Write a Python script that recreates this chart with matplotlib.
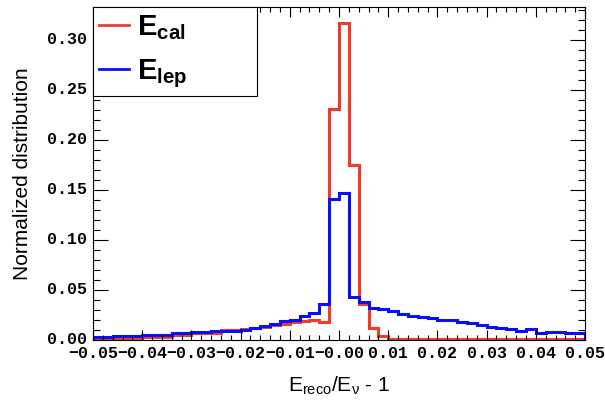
import numpy as np
import matplotlib
matplotlib.use('Agg')
import matplotlib.pyplot as plt
import matplotlib.transforms as mtransforms
from matplotlib.ticker import MultipleLocator, FuncFormatter

plt.rcParams['mathtext.fontset'] = 'custom'
plt.rcParams['mathtext.rm'] = 'Liberation Sans'
plt.rcParams['mathtext.it'] = 'Liberation Sans:italic'
plt.rcParams['mathtext.bf'] = 'Liberation Sans:bold'

# 50 bins over [-0.05, 0.05]
bin_lo = -0.05
bin_hi = 0.05
n_bins = 50

e_cal = [0.002, 0.002, 0.002, 0.002, 0.002, 0.003, 0.003, 0.003, 0.005, 0.005,
         0.0075, 0.0075, 0.0075, 0.0105, 0.0105, 0.0115, 0.012, 0.013, 0.015, 0.0165,
         0.018, 0.0195, 0.0205, 0.0185, 0.231, 0.317, 0.175, 0.036, 0.0125, 0.0045,
         0.0015, 0.0015, 0.0015, 0.0015, 0.0015, 0.0015, 0.0015, 0.0015, 0.0015, 0.0015,
         0.0015, 0.0015, 0.0015, 0.0015, 0.0015, 0.0015, 0.0015, 0.0015, 0.0015, 0.0015]

e_lep = [0.003, 0.003, 0.0045, 0.0045, 0.0045, 0.0055, 0.0055, 0.0055, 0.0068, 0.0068,
         0.0078, 0.0078, 0.0088, 0.0088, 0.0088, 0.0105, 0.012, 0.014, 0.0165, 0.0188,
         0.0205, 0.024, 0.027, 0.036, 0.1407, 0.1473, 0.0435, 0.038, 0.0317, 0.0307,
         0.029, 0.0257, 0.0243, 0.023, 0.0217, 0.02, 0.02, 0.0177, 0.0167, 0.015,
         0.0133, 0.0123, 0.0107, 0.0093, 0.011, 0.0073, 0.0077, 0.0077, 0.0067, 0.0067]

edges = np.linspace(bin_lo, bin_hi, n_bins + 1)


def fmt(v, pos):
    return ('%.2f' % v).replace('-', '\u2212')


fig = plt.figure(figsize=(6.05, 4.0), dpi=100)
ax = fig.add_axes([0.1537, 0.15, 0.8133, 0.8325])

red = '#f03a2a'
blue = '#0a10f5'
ax.stairs(e_cal, edges, color=red, linewidth=2.2, label=r'$\mathbf{E_{cal}}$')
ax.stairs(e_lep, edges, color=blue, linewidth=2.2, label=r'$\mathbf{E_{lep}}$')

ax.set_xlim(bin_lo, bin_hi)
ax.set_ylim(0, 0.333)

ax.xaxis.set_major_locator(MultipleLocator(0.01))
ax.xaxis.set_minor_locator(MultipleLocator(0.002))
ax.yaxis.set_major_locator(MultipleLocator(0.05))
ax.yaxis.set_minor_locator(MultipleLocator(0.01))
ax.xaxis.set_major_formatter(FuncFormatter(fmt))
ax.yaxis.set_major_formatter(FuncFormatter(fmt))

ax.tick_params(axis='both', which='both', direction='in', top=True, right=True, width=0.8)
ax.tick_params(axis='x', which='major', length=7.2, pad=4)
ax.tick_params(axis='x', which='minor', length=3.6)
ax.tick_params(axis='y', which='major', length=10.8, pad=4)
ax.tick_params(axis='y', which='minor', length=5)
for lab in ax.get_xticklabels() + ax.get_yticklabels():
    lab.set_fontfamily('Liberation Mono')
    lab.set_fontweight('bold')
    lab.set_fontsize(12)
# y labels sit a little above their ticks, as in the original
shift = mtransforms.ScaledTranslation(0, 2.5 / 100, fig.dpi_scale_trans)
for lab in ax.get_yticklabels():
    lab.set_transform(lab.get_transform() + shift)
for sp in ax.spines.values():
    sp.set_linewidth(0.8)

ax.set_xlabel('E$_{\\mathrm{reco}}$/E$_{\\mathrm{ν}}$ - 1', fontfamily='Liberation Sans',
              fontsize=15, labelpad=10)
ax.set_ylabel('Normalized distribution', fontfamily='Liberation Sans', fontsize=15, labelpad=11)

leg = ax.legend(loc='upper left', bbox_to_anchor=(0, 0, 0.334, 1), mode='expand',
                borderaxespad=0, fontsize=21, fancybox=False, edgecolor='black',
                framealpha=1, handlelength=1.0, handletextpad=0.3, borderpad=0.22,
                labelspacing=0.5)
leg.get_frame().set_linewidth(0.8)
for ln in leg.get_lines():
    ln.set_linewidth(2)

fig.savefig('out.png', dpi=100)
